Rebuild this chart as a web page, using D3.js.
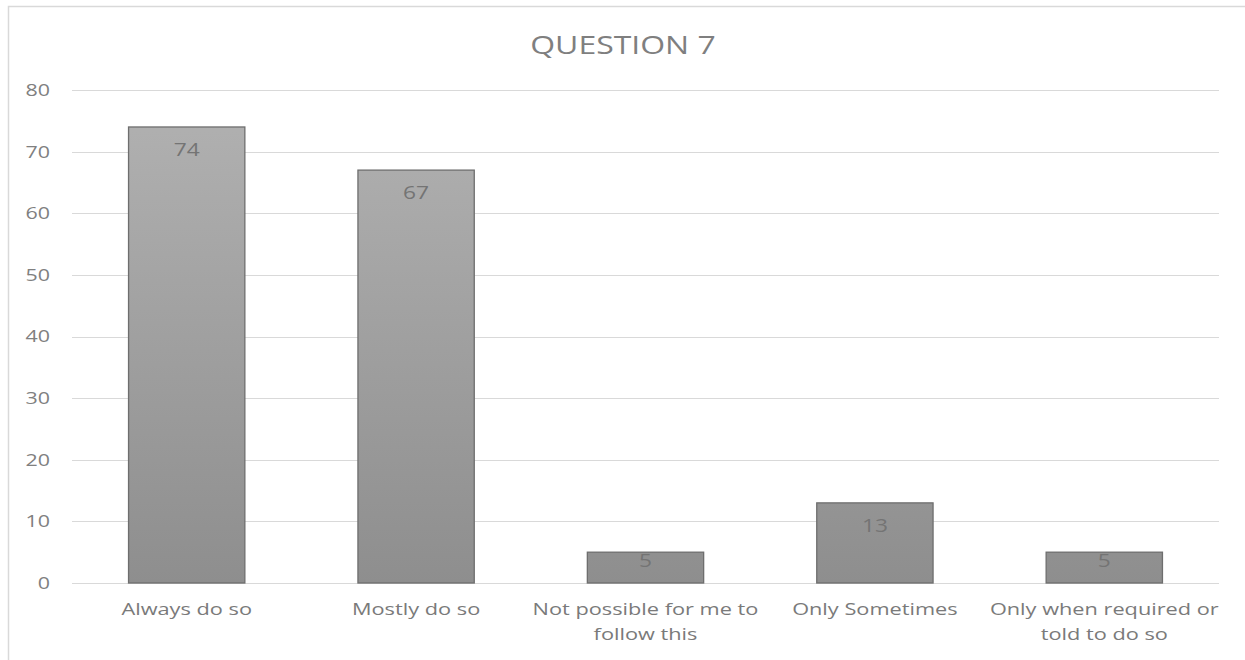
<!DOCTYPE html>
<html><head><meta charset="utf-8">
<script src="https://cdn.jsdelivr.net/npm/d3@7"></script>
<style>body{margin:0;background:#fff;} svg{display:block;}</style>
</head><body>
<svg id="c" width="1245" height="660"></svg>
<script>
const categories = [["Always do so"],["Mostly do so"],["Not possible for me to","follow this"],["Only Sometimes"],["Only when required or","told to do so"]];
const values = [74, 67, 5, 13, 5];
const yTicks = [0,10,20,30,40,50,60,70,80];
const title = "QUESTION 7";

(function(){
const svg = d3.select("#c");
const font = "'Open Sans', sans-serif";
const pLeft = 72, pRight = 1219, pTop = 90, pBottom = 583;
const sx = 1.3;

svg.append("path").attr("d","M8.5,660 V6.5 H1245").attr("fill","none").attr("stroke","#d9d9d9").attr("stroke-width",1.5);

const x = d3.scaleBand().domain(d3.range(values.length)).range([pLeft,pRight]).paddingInner(0.493).paddingOuter(0.2465);
const y = d3.scaleLinear().domain([0,80]).range([pBottom,pTop]);

const defs = svg.append("defs");
const g = defs.append("linearGradient").attr("id","bg").attr("gradientUnits","userSpaceOnUse")
  .attr("x1",0).attr("x2",0).attr("y1",y(80)).attr("y2",y(0));
g.append("stop").attr("offset","0%").attr("stop-color","#b2b2b2");
g.append("stop").attr("offset","100%").attr("stop-color","#8e8e8e");

svg.append("g").selectAll("line").data(yTicks).join("line")
  .attr("x1",pLeft).attr("x2",pRight).attr("y1",d=>Math.round(y(d))+0.5).attr("y2",d=>Math.round(y(d))+0.5)
  .attr("stroke","#d9d9d9").attr("stroke-width",1);

svg.append("g").selectAll("text").data(yTicks).join("text")
  .attr("transform",d=>`translate(50,${y(d)}) scale(${sx},1)`).attr("dy","0.36em").attr("text-anchor","end")
  .attr("font-family",font).attr("font-size",16.5).attr("fill","#808080").text(d=>d);

svg.append("g").selectAll("rect").data(values).join("rect")
  .attr("x",(d,i)=>x(i)).attr("width",x.bandwidth())
  .attr("y",d=>y(d)).attr("height",d=>y(0)-y(d))
  .attr("fill","url(#bg)").attr("stroke","#6e6e6e").attr("stroke-width",1.3);

svg.append("g").selectAll("text").data(values).join("text")
  .attr("transform",(d,i)=>`translate(${x(i)+x.bandwidth()/2},${Math.min(y(d)+29, y(0)-16)}) scale(${sx},1)`).attr("text-anchor","middle")
  .attr("font-family",font).attr("font-size",17.5).attr("fill","#747474").text(d=>d);

const cl = svg.append("g").selectAll("text").data(categories).join("text")
  .attr("transform",(d,i)=>`translate(${x(i)+x.bandwidth()/2},615) scale(1.36,1)`).attr("text-anchor","middle")
  .attr("font-family",font).attr("font-size",16).attr("fill","#7a7a7a");
cl.selectAll("tspan").data(d=>d).join("tspan")
  .attr("x",0).attr("y",(d,i)=>i*25).text(d=>d);

svg.append("text").attr("transform",`translate(623,54) scale(1.23,1)`).attr("text-anchor","middle")
  .attr("font-family",font).attr("font-size",26).attr("fill","#7f7f7f").text(title);
})();
</script>
</body></html>
